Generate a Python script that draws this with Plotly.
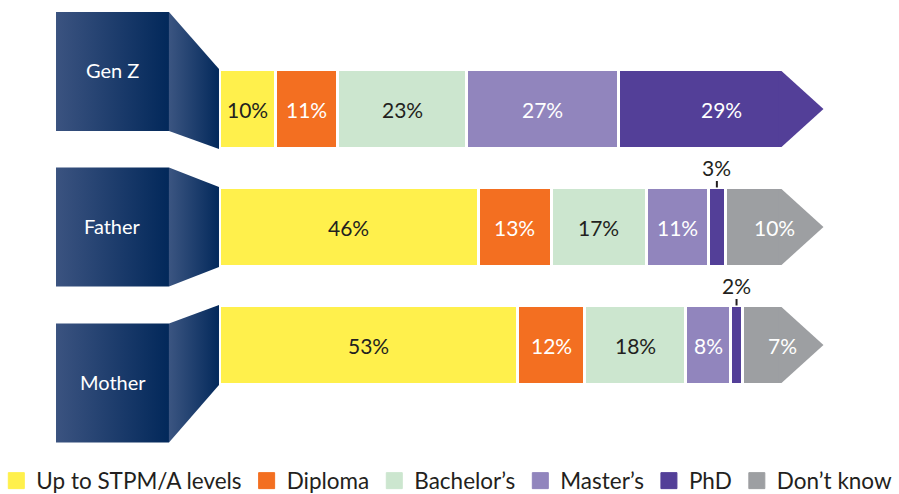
import plotly.graph_objects as go

# ---------------- data ----------------
groups = ["Gen Z", "Father", "Mother"]
levels = ["Up to STPM/A levels", "Diploma", "Bachelor’s", "Master’s", "PhD", "Don’t know"]
genz = [10, 11, 23, 27, 29, 0]
father = [46, 13, 17, 11, 3, 10]
mother = [53, 12, 18, 8, 2, 7]
values = [genz, father, mother]

# ---------------- styles ----------------
colors = ["#fff04c", "#f36f21", "#cce6cf", "#9185bd", "#533f98", "#9d9fa2"]
text_colors = ["#231f20", "#ffffff", "#231f20", "#ffffff", "#ffffff", "#ffffff"]
FONT = "Lato"
DARK = "#231f20"
BOX_GRAD = [[0, "#3b5380"], [1, "#02285a"]]
TRAP_GRAD = [[0, "#3b5581"], [1, "#03295b"]]

PX = 5.62          # pixels per percent unit
X0 = 219.5         # pixel of 0%
PY = 118.0         # pixels per row
Y0 = 109.0         # pixel of first row center
W, H = 899, 494

BAR_W = 0.67
HALF_VIS = 0.322
ARROW = 7.47
BOX_L, BOX_R, TRAP_R = -29.09, -8.99, -0.09
BOX_HALF = 0.504
TRAP_HALF = 0.338
box_shift = [-0.318, 0.0, 0.322]

fig = go.Figure()

rows = list(range(len(groups)))

# stacked bars
for j, lev in enumerate(levels):
    xs = [values[g][j] if values[g][j] > 0 else None for g in rows]
    fig.add_trace(go.Bar(
        x=xs, y=rows, orientation="h", width=BAR_W,
        marker=dict(color=colors[j], line=dict(color="white", width=3)),
        showlegend=False, hoverinfo="skip", name=lev,
    ))

# arrow tips, group boxes and connectors
for g in rows:
    vals = values[g]
    total = sum(vals)
    last = max(i for i, v in enumerate(vals) if v > 0)
    fig.add_trace(go.Scatter(
        x=[total - 0.6, total, total + ARROW, total, total - 0.6, total - 0.6],
        y=[g - HALF_VIS, g - HALF_VIS, g, g + HALF_VIS, g + HALF_VIS, g - HALF_VIS],
        mode="lines", fill="toself", fillcolor=colors[last],
        line=dict(width=0, color=colors[last]), showlegend=False, hoverinfo="skip",
    ))
    c = g + box_shift[g]
    fig.add_trace(go.Scatter(
        x=[BOX_L, BOX_R, BOX_R, BOX_L, BOX_L],
        y=[c - BOX_HALF, c - BOX_HALF, c + BOX_HALF, c + BOX_HALF, c - BOX_HALF],
        mode="lines", fill="toself",
        fillgradient=dict(type="horizontal", colorscale=BOX_GRAD),
        line=dict(width=0), showlegend=False, hoverinfo="skip",
    ))
    fig.add_trace(go.Scatter(
        x=[BOX_R, TRAP_R, TRAP_R, BOX_R, BOX_R],
        y=[c - BOX_HALF, g - TRAP_HALF, g + TRAP_HALF, c + BOX_HALF, c - BOX_HALF],
        mode="lines", fill="toself",
        fillgradient=dict(type="horizontal", colorscale=TRAP_GRAD),
        line=dict(width=0), showlegend=False, hoverinfo="skip",
    ))
    fig.add_annotation(x=(BOX_L + BOX_R) / 2, y=c - 0.01, text=groups[g], showarrow=False,
                       font=dict(family=FONT, size=20, color="white"))

    # value labels
    cum = 0
    for j, v in enumerate(vals):
        if v <= 0:
            continue
        start, end = cum, cum + v
        cum = end
        if j == last:
            xc = (start + end + ARROW) / 2
        else:
            xc = (start + end) / 2
        if v < 5:
            fig.add_annotation(x=xc, y=g - 0.508, text=f"{v}%", showarrow=False,
                               font=dict(family=FONT, size=21, color=DARK))
            fig.add_trace(go.Scatter(x=[xc, xc], y=[g - 0.39, g - 0.335], mode="lines",
                                     line=dict(color=DARK, width=2),
                                     showlegend=False, hoverinfo="skip"))
        else:
            fig.add_annotation(x=xc, y=g, text=f"{v}%", showarrow=False,
                               font=dict(family=FONT, size=21, color=text_colors[j]))

# legend entries
for j, lev in enumerate(levels):
    fig.add_trace(go.Scatter(
        x=[None], y=[None], mode="markers", name=lev,
        marker=dict(symbol="square", size=16, color=colors[j],
                    line=dict(width=1, color=colors[j])),
        showlegend=True, hoverinfo="skip",
    ))

fig.update_layout(
    width=W, height=H,
    margin=dict(l=0, r=0, t=0, b=0, autoexpand=False),
    paper_bgcolor="white", plot_bgcolor="white",
    barmode="stack",
    xaxis=dict(range=[-X0 / PX, (W - X0) / PX], visible=False, fixedrange=True),
    yaxis=dict(range=[(H - Y0) / PY, -Y0 / PY], visible=False, fixedrange=True),
    showlegend=True,
    legend=dict(orientation="h", x=0.497, xanchor="center", y=1 - 481 / H, yanchor="middle",
                font=dict(family=FONT, size=22.5, color=DARK), traceorder="normal",
                itemclick=False, itemdoubleclick=False, bgcolor="rgba(0,0,0,0)",
                tracegroupgap=0, itemwidth=30),
    font=dict(family=FONT),
)

fig.write_html("out.html")
